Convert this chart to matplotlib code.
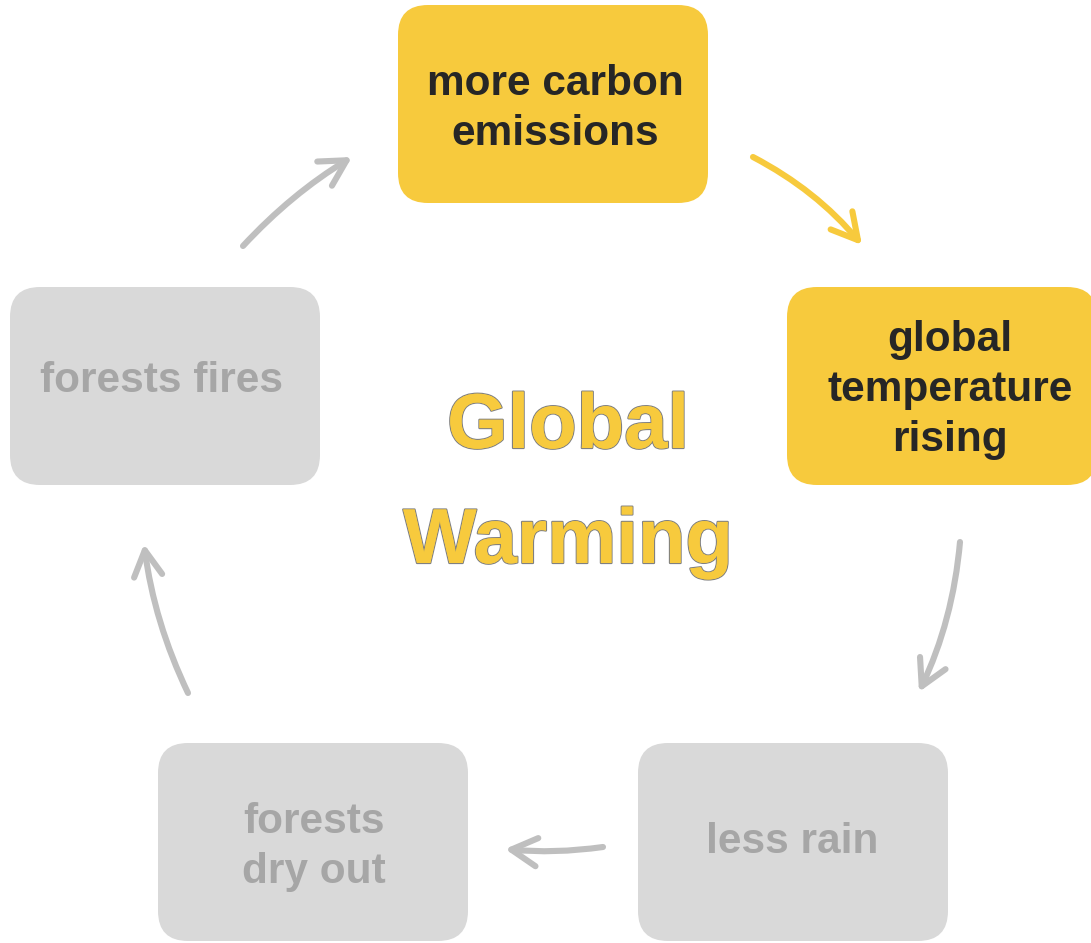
import matplotlib
matplotlib.use("Agg")
import matplotlib.pyplot as plt
from matplotlib.patches import FancyBboxPatch, FancyArrowPatch
import matplotlib.patheffects as pe

plt.rcParams['font.family'] = ['Liberation Sans', 'DejaVu Sans']

# ---- content ----
labels = [
    ["more carbon", "emissions"],
    ["global", "temperature", "rising"],
    ["less rain"],
    ["forests", "dry out"],
    ["forests fires"],
]
highlighted = [True, True, False, False, False]
title_lines = ["Global", "Warming"]

# ---- colours ----
YELLOW = "#F7CA3D"
DARK = "#262626"
GREY_BOX = "#D9D9D9"
GREY_TEXT = "#A6A6A6"
GREY_ARROW = "#BFBFBF"
OUTLINE = "#808080"

# ---- layout (pixels, y downward) ----
W, H = 1091, 943
box_w, box_h = 310, 198
box_xy = [(398, 5), (787, 287), (638, 743), (158, 743), (10, 287)]
text_center_x = [555, 950, 792, 314, 161]
text_mid_baseline = [120, 401, 853, 858, 392]
line_step = 50
fs_box = 30.5

arrows = [  # start, end, rad, highlighted
    ((753, 157), (862, 245), -0.1, True),
    ((960, 542), (919, 692), -0.09, False),
    ((603, 847), (505, 849), -0.06, False),
    ((188, 693), (144, 544), -0.08, False),
    ((243, 246), (352, 157), -0.07, False),
]

fig = plt.figure(figsize=(W / 100, H / 100), dpi=100)
ax = fig.add_axes([0, 0, 1, 1])
ax.set_xlim(0, W)
ax.set_ylim(H, 0)
ax.axis("off")

for (x, y), lines, hl, tx, tb in zip(box_xy, labels, highlighted,
                                     text_center_x, text_mid_baseline):
    ax.add_patch(FancyBboxPatch((x, y), box_w, box_h,
                                boxstyle="round,pad=0,rounding_size=30",
                                fc=YELLOW if hl else GREY_BOX, ec="none"))
    n = len(lines)
    for i, ln in enumerate(lines):
        by = tb + (i - (n - 1) / 2) * line_step
        ax.text(tx, by, ln, ha="center", va="baseline", fontsize=fs_box,
                fontweight="bold", color=DARK if hl else GREY_TEXT)

for (p0, p1, rad, hl) in arrows:
    ax.add_patch(FancyArrowPatch(p0, p1, connectionstyle=f"arc3,rad={rad}",
                                 arrowstyle="->,head_length=1.0,head_width=0.55",
                                 mutation_scale=18.5, lw=4.4,
                                 color=YELLOW if hl else GREY_ARROW,
                                 capstyle="round", joinstyle="round",
                                 shrinkA=0, shrinkB=0))

title_baselines = [448, 563]
for ln, by in zip(title_lines, title_baselines):
    ax.text(568, by, ln, ha="center", va="baseline", fontsize=56,
            fontweight="bold", color=YELLOW,
            path_effects=[pe.withStroke(linewidth=1.6, foreground=OUTLINE),
                          pe.Normal()])

fig.savefig("out.png", dpi=100)
